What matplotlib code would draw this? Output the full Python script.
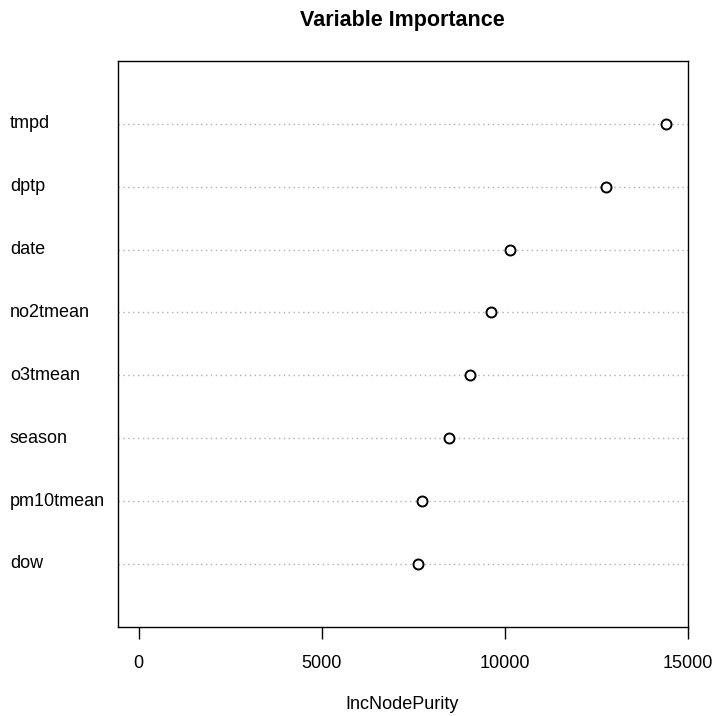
import numpy as np
import matplotlib
matplotlib.use("Agg")
import matplotlib.pyplot as plt
from matplotlib.transforms import blended_transform_factory

plt.rcParams['font.family'] = ['Liberation Sans', 'DejaVu Sans']

# variable importance (random forest, IncNodePurity), bottom to top
variables = ["dow", "pm10tmean", "season", "o3tmean", "no2tmean", "date", "dptp", "tmpd"]
purity = [7643, 7743, 8477, 9050, 9635, 10158, 12772, 14415]
xticks = [0, 5000, 10000, 15000]

fig = plt.figure(figsize=(7.13, 7.16), dpi=100)
ax = fig.add_axes([0.1648, 0.1247, 0.7996, 0.7901])

ypos = np.arange(1, len(variables) + 1)
for y in ypos:
    ax.axhline(y, color="#b0b0b0", lw=1.0, ls=(0, (1, 2.5)), zorder=1)
ax.plot(purity, ypos, ls="none", marker="o", ms=7.2, mfc="white", mec="black", mew=1.4, zorder=3)

xmax = max(purity)
ax.set_xlim(-0.04 * xmax, 1.04 * xmax)
ax.set_ylim(0, len(variables) + 1)
ax.set_xticks(xticks)
ax.set_xticklabels([str(t) for t in xticks], fontsize=13)
ax.tick_params(axis="x", direction="out", length=8.6, width=1.0, pad=12)
ax.set_yticks([])
for s in ax.spines.values():
    s.set_linewidth(1.0)

# row labels left-aligned near the figure edge
trans = blended_transform_factory(fig.transFigure, ax.transData)
for y, name in zip(ypos, variables):
    ax.text(10 / 713, y, name, transform=trans, fontsize=13, va="center", ha="left")

ax.set_xlabel("IncNodePurity", fontsize=13, labelpad=17)
ax.set_title("Variable Importance", fontsize=15.5, fontweight="bold", pad=25)

fig.savefig("out.png", dpi=100)
